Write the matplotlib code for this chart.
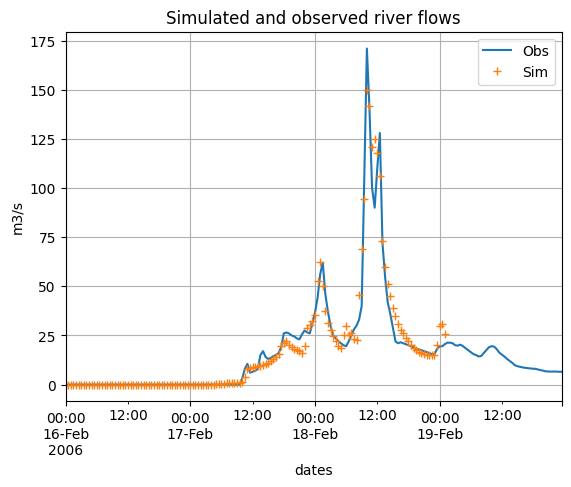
import numpy as np
import pandas as pd
import matplotlib
matplotlib.use('Agg')
import matplotlib.pyplot as plt

# half-hourly time index, 16-Feb-2006 00:00 -> 19-Feb-2006 23:30
start = '2006-02-16 00:00'
n_steps = 192

# observed flow (m3/s)
obs = [0.0] * 68 + [
    3, 8, 10.5, 6, 6.5, 7, 8, 15, 17, 14,
    13, 13.5, 14.5, 15, 16, 19, 26, 26.5, 26, 25,
    24.5, 23.5, 23, 25.5, 27.5, 26.5, 26, 31, 36.5, 44,
    56, 62, 46, 37, 30, 25, 23.5, 22, 21, 20,
    19.5, 22, 25, 28, 30, 33, 40, 105, 171, 140,
    100, 90, 110, 128, 72, 55, 42, 36, 29, 22,
    21, 21.5, 21, 20.5, 20, 19.5, 19, 18, 17.8, 17.5,
    17, 16.5, 16, 15.5, 15.5, 18, 19.5, 19.5, 20.5, 21.3,
    21.3, 21, 20, 19.8, 20.3, 19.5, 18.5, 17.5, 16.5, 15.5,
    15, 14.3, 14.5, 16, 17.5, 19, 19.5, 19.3, 18, 16.2,
    15.2, 14.2, 13, 12, 11, 9.8, 9.3, 9, 8.7, 8.5,
    8.3, 8.2, 8, 8, 7.6, 7.3, 7, 6.7, 6.6, 6.6,
    6.6, 6.6, 6.5, 6.5,
]

# simulated flow (m3/s), ends around 19-Feb 01:00
sim = [0.0] * 58 + [0.3] * 4 + [0.8] * 5 + [
    1, 1.5, 4, 8, 8.5, 8.7, 9, 9.2, 9.5, 9.8, 10.2,
    11, 12, 13, 14, 15.3, 19.5, 21.2, 22, 20.3, 19.2,
    18.1, 17.4, 16.9, 16, 19.8, 28.8, 30.5, 32.2, 35.6, 52.9,
    62.4, 50, 37.3, 31.3, 28, 24.6, 22, 19.5, 18.6, 25.4,
    29.7, 25.4, 26.3, 23.2, 22.9, 45.8, 69, 94.6, 150, 142,
    121, 125, 118, 106, 73, 60, 51, 45, 39, 35,
    31, 28, 26, 23.7, 22, 20.3, 18.7, 17.5, 16.4, 16,
    15.3, 14.8, 14.8, 14.8, 14.8, 20, 30, 31, 25.5,
]
sim = sim + [np.nan] * (n_steps - len(sim))

dates = pd.date_range(start, periods=n_steps, freq='30min')
df = pd.DataFrame({'Obs': obs, 'Sim': sim}, index=dates)

fig, ax = plt.subplots(figsize=(6.4, 4.8))
df.plot(ax=ax, style=['-', '+'], grid=True)
ax.set_title('Simulated and observed river flows')
ax.set_xlabel('dates')
ax.set_ylabel('m3/s')
ax.legend(loc='upper right')

plt.savefig('out.png', dpi=100, bbox_inches='tight')
